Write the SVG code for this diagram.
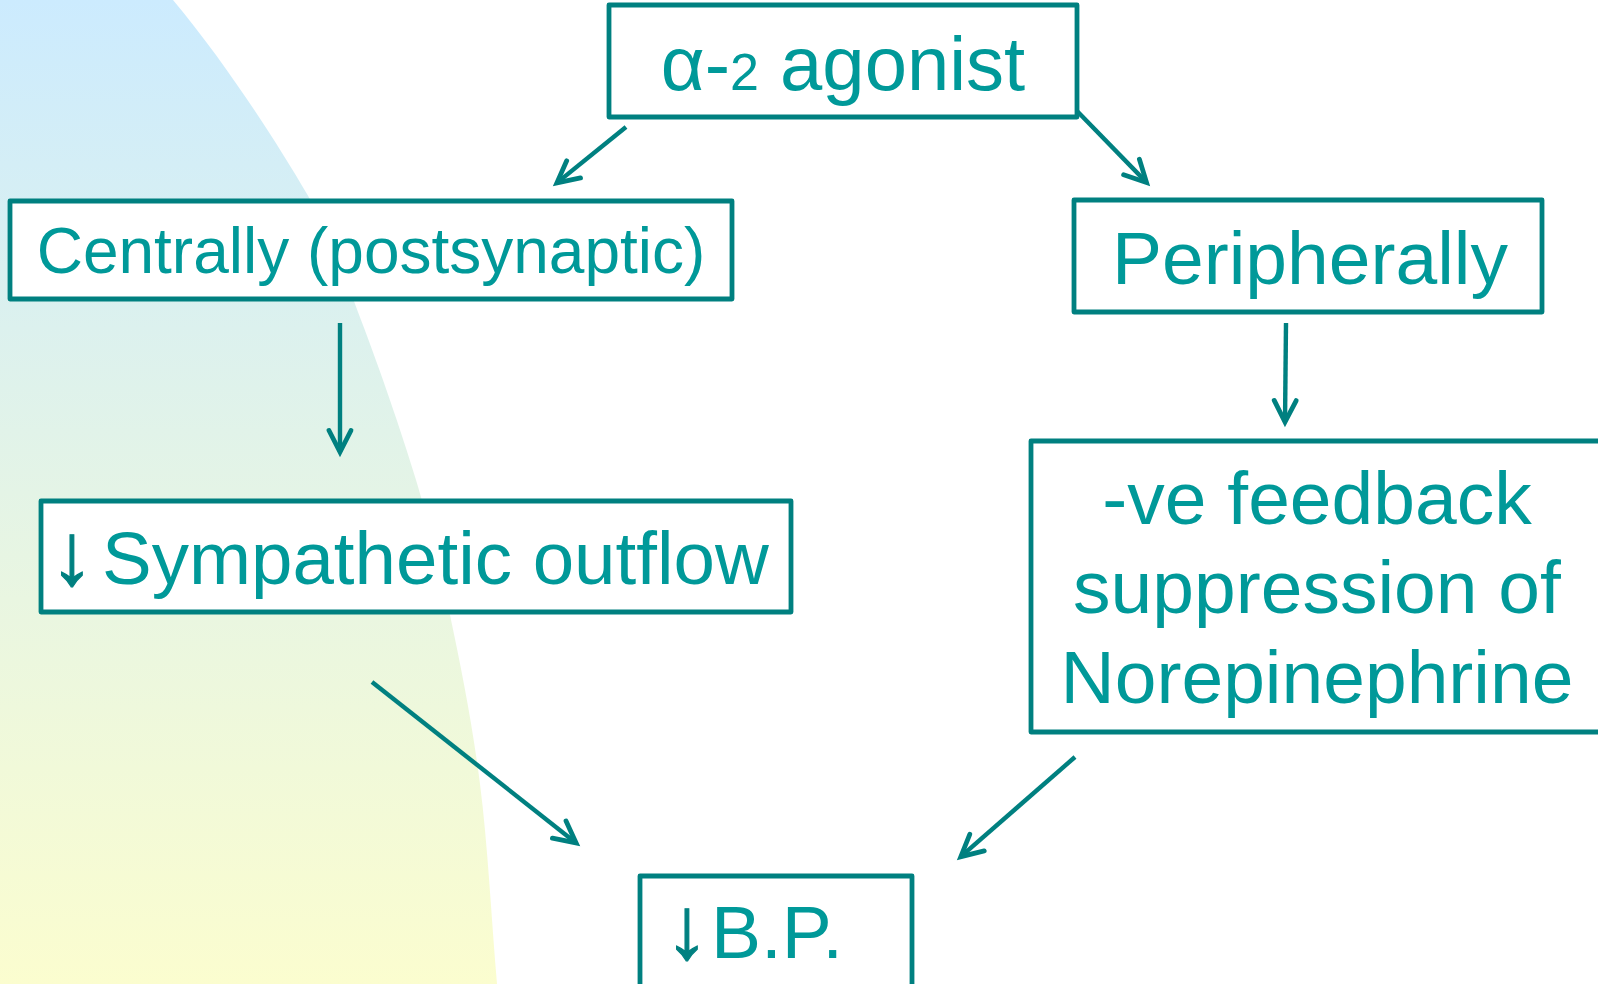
<svg xmlns="http://www.w3.org/2000/svg" width="1598" height="984" viewBox="0 0 1598 984">
<defs>
<linearGradient id="bg" x1="0" y1="0" x2="0" y2="1">
<stop offset="0" stop-color="#CCEBFE"/>
<stop offset="0.5" stop-color="#E4F4E6"/>
<stop offset="1" stop-color="#FBFDCF"/>
</linearGradient>
<marker id="arr" markerUnits="userSpaceOnUse" viewBox="-30 -16 36 32" refX="0" refY="0" markerWidth="36" markerHeight="32" orient="auto" overflow="visible">
<path d="M-21.5,-11 L0,0 L-21.5,11" fill="none" stroke="#008080" stroke-width="4.8" stroke-linecap="round" stroke-linejoin="miter"/>
</marker>
</defs>
<style>
.box{fill:#FFFFFF;stroke:#008080;stroke-width:4.8;stroke-linejoin:round}
.t{font-family:"Liberation Sans",Arial,sans-serif;fill:#009999;font-size:75px}
.ar{fill:#008080;stroke:#008080;stroke-width:1.2;font-size:88px}
.c{fill:none;stroke:#008080;stroke-width:4.4;marker-end:url(#arr)}
</style>
<rect width="1598" height="984" fill="#FFFFFF"/>
<path d="M173,0 C225,62 275.7,140.7 307,194 C338.3,247.3 342.8,272.3 361,320 C379.2,367.7 401.2,430.8 416,480 C430.8,529.2 439.3,564.3 450,615 C460.7,665.7 472.2,722.5 480,784 C487.8,845.5 491.3,917.3 497,984 L0,984 L0,0 Z" fill="url(#bg)"/>

<g id="connectors">
<line class="c" x1="626" y1="127" x2="556.9" y2="182.9"/>
<line class="c" x1="1077" y1="111" x2="1146.5" y2="182.4"/>
<line class="c" x1="340" y1="323" x2="340" y2="452"/>
<line class="c" x1="1286" y1="323" x2="1285" y2="422"/>
<line class="c" x1="372" y1="682" x2="576.1" y2="842.9"/>
<line class="c" x1="1075" y1="757" x2="960.8" y2="856.7"/>
</g>

<g id="node-agonist">
<rect class="box" x="609" y="5" width="468" height="112"/>
<text class="t" x="843" y="90" text-anchor="middle" style="font-size:76px">α-<tspan style="font-size:52px">2</tspan> agonist</text>
</g>

<g id="node-centrally">
<rect class="box" x="10" y="201" width="722" height="98"/>
<text class="t" x="371" y="273" text-anchor="middle" style="font-size:64px">Centrally (postsynaptic)</text>
</g>

<g id="node-peripherally">
<rect class="box" x="1074" y="200" width="468" height="112"/>
<text class="t" x="1310" y="284" text-anchor="middle">Peripherally</text>
</g>

<g id="node-sympathetic">
<rect class="box" x="41" y="501" width="750" height="111"/>
<text class="t" x="50" y="584"><tspan class="ar">↓</tspan><tspan x="102" style="font-size:74.5px">Sympathetic outflow</tspan></text>
</g>

<g id="node-feedback">
<rect class="box" x="1031" y="441" width="600" height="291"/>
<text class="t" x="1317" y="524" text-anchor="middle">-ve feedback</text>
<text class="t" x="1317" y="613" text-anchor="middle">suppression of</text>
<text class="t" x="1317" y="703" text-anchor="middle">Norepinephrine</text>
</g>

<g id="node-bp">
<rect class="box" x="640" y="876" width="272" height="130"/>
<text class="t" x="665" y="958"><tspan class="ar">↓</tspan><tspan x="711">B.P.</tspan></text>
</g>
</svg>
